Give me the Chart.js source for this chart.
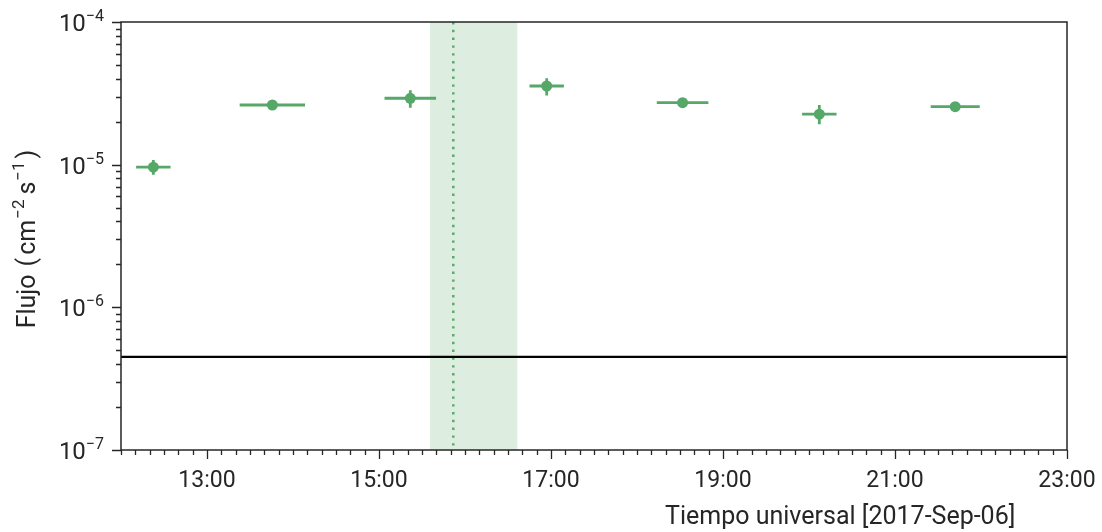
<!DOCTYPE html>
<html>
<head>
<meta charset="utf-8">
<script src="https://cdn.jsdelivr.net/npm/chart.js@4/dist/chart.umd.min.js"></script>
<style>
html,body{margin:0;padding:0;background:#fff;}
#wrap{width:1102px;height:532px;}
</style>
</head>
<body>
<div id="wrap"><canvas id="c" width="1102" height="532"></canvas></div>
<script>
// ---- data (hours of day, UT) ----
const times      = [12.376, 13.76, 15.364, 16.95, 18.53, 20.12, 21.70];
const halfWidths = [0.20, 0.38, 0.30, 0.20, 0.30, 0.20, 0.285];
const flux       = [9.6e-6, 2.62e-5, 2.92e-5, 3.56e-5, 2.72e-5, 2.26e-5, 2.55e-5];
const fluxLo     = [8.5e-6, 2.55e-5, 2.51e-5, 3.05e-5, 2.66e-5, 1.92e-5, 2.49e-5];
const fluxHi     = [1.08e-5, 2.69e-5, 3.33e-5, 4.03e-5, 2.78e-5, 2.62e-5, 2.61e-5];
const bandStart  = 15.593;
const bandEnd    = 16.608;
const flareTime  = 15.864;
const threshold  = 4.5e-7;
const xMin = 12, xMax = 23;
const xTickValues = [13, 15, 17, 19, 21, 23];
const xTickLabels = ['13:00', '15:00', '17:00', '19:00', '21:00', '23:00'];
const yExponents  = [-7, -6, -5, -4];
const xTitle = 'Tiempo universal [2017-Sep-06]';

const GREEN = '#55a868';
const INK = '#262626';
const FONT = 'Roboto';

const errorBars = {
  id: 'errorBars',
  beforeDatasetsDraw(chart) {
    const {ctx, chartArea: a, scales: {x, y}} = chart;
    ctx.save();
    ctx.fillStyle = 'rgba(85,168,104,0.2)';
    const b0 = x.getPixelForValue(bandStart), b1 = x.getPixelForValue(bandEnd);
    ctx.fillRect(b0, a.top, b1 - b0, a.bottom - a.top);
    ctx.strokeStyle = GREEN;
    ctx.lineWidth = 2.4;
    ctx.setLineDash([2.4, 5.4]);
    const fx = x.getPixelForValue(flareTime);
    ctx.beginPath(); ctx.moveTo(fx, a.top); ctx.lineTo(fx, a.bottom); ctx.stroke();
    ctx.setLineDash([]);
    ctx.strokeStyle = GREEN;
    ctx.lineWidth = 2.8;
    for (let i = 0; i < times.length; i++) {
      const px = x.getPixelForValue(times[i]);
      const py = y.getPixelForValue(flux[i]);
      const xl = x.getPixelForValue(times[i] - halfWidths[i]);
      const xr = x.getPixelForValue(times[i] + halfWidths[i]);
      const yl = y.getPixelForValue(fluxLo[i]);
      const yh = y.getPixelForValue(fluxHi[i]);
      ctx.beginPath();
      ctx.moveTo(xl, py); ctx.lineTo(xr, py);
      ctx.moveTo(px, yl); ctx.lineTo(px, yh);
      ctx.stroke();
    }
    ctx.restore();
  }
};

const frameAxes = {
  id: 'frameAxes',
  afterDraw(chart) {
    const {ctx, chartArea: a, scales: {x, y}} = chart;
    ctx.save();
    ctx.strokeStyle = INK;
    ctx.lineWidth = 1.5;
    ctx.strokeRect(a.left, a.top, a.right - a.left, a.bottom - a.top);
    ctx.lineWidth = 1.3;
    ctx.beginPath();
    for (let m = xMin * 60; m <= xMax * 60; m += 10) {
      const h = m / 60;
      const px = Math.round(x.getPixelForValue(h)) + 0.5;
      const major = xTickValues.includes(h);
      ctx.moveTo(px, a.bottom); ctx.lineTo(px, a.bottom + (major ? 9 : 5));
    }
    for (let e = -7; e <= -4; e++) {
      for (let k = 1; k <= 9; k++) {
        if (e === -4 && k > 1) break;
        const v = k * Math.pow(10, e);
        const py = Math.round(y.getPixelForValue(v)) + 0.5;
        ctx.moveTo(a.left, py); ctx.lineTo(a.left - (k === 1 ? 9 : 5), py);
      }
    }
    ctx.stroke();
    ctx.fillStyle = INK;
    ctx.font = '23px ' + FONT;
    ctx.textAlign = 'center';
    ctx.textBaseline = 'alphabetic';
    xTickValues.forEach((v, i) => {
      ctx.fillText(xTickLabels[i], x.getPixelForValue(v), 487);
    });
    ctx.textAlign = 'left';
    ctx.font = '25px ' + FONT;
    ctx.fillText(xTitle, 665, 524);
    yExponents.forEach(e => {
      const py = y.getPixelForValue(Math.pow(10, e));
      ctx.font = '16px ' + FONT;
      const sup = '\u2212' + Math.abs(e);
      const sw = ctx.measureText(sup).width;
      const right = 104;
      ctx.textAlign = 'left';
      ctx.fillText(sup, right - sw, py - 1);
      ctx.font = '24px ' + FONT;
      ctx.textAlign = 'right';
      ctx.fillText('10', right - sw, py + 9);
    });
    // y title
    ctx.save();
    ctx.translate(35, 239);
    ctx.rotate(-Math.PI / 2);
    const parts = [
      ['Flujo', 0, 0, 8], ['(', 0, 0, 3], ['cm', 0, 0, 1], ['\u22122', 1, 0, 5], ['s', 0, 0, 1], ['\u22121', 1, 0, 3], [')', 0, 0, 0]
    ];
    const fontOf = p => (p[1] ? '17px ' : '25px ') + FONT;
    let total = 0;
    parts.forEach(p => { ctx.font = fontOf(p); total += ctx.measureText(p[0]).width + p[3]; });
    let cx = -total / 2;
    ctx.textAlign = 'left';
    parts.forEach(p => {
      ctx.font = fontOf(p);
      ctx.fillText(p[0], cx, p[1] ? -11 : 0);
      cx += ctx.measureText(p[0]).width + p[3];
    });
    ctx.restore();
    ctx.restore();
  }
};

new Chart(document.getElementById('c'), {
  type: 'scatter',
  data: {
    datasets: [
      {
        data: times.map((t, i) => ({x: t, y: flux[i]})),
        pointRadius: 5.5,
        pointHoverRadius: 5.5,
        backgroundColor: GREEN,
        borderWidth: 0,
        order: 1
      },
      {
        type: 'line',
        data: [{x: xMin, y: threshold}, {x: xMax, y: threshold}],
        borderColor: '#000',
        borderWidth: 2.2,
        pointRadius: 0,
        order: 2
      }
    ]
  },
  options: {
    responsive: false,
    animation: false,
    layout: {padding: {left: 121, right: 35, top: 22, bottom: 82}},
    plugins: {legend: {display: false}, tooltip: {enabled: false}},
    scales: {
      x: {type: 'linear', min: xMin, max: xMax, display: false},
      y: {type: 'logarithmic', min: 1e-7, max: 1e-4, display: false}
    }
  },
  plugins: [errorBars, frameAxes]
});
</script>
</body>
</html>
